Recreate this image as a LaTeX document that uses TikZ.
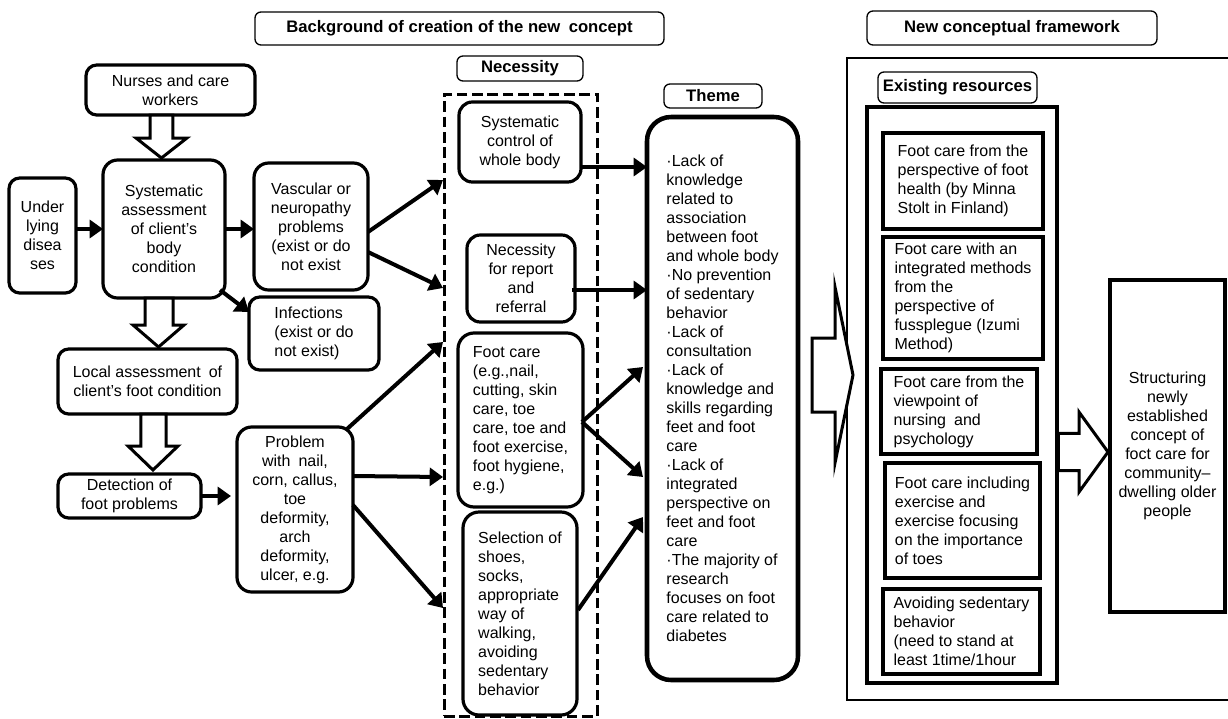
\documentclass[tikz,border=0pt]{standalone}
\usepackage{fontspec}
\setmainfont{Liberation Sans}
\usetikzlibrary{arrows.meta,calc}
\newcommand\txt{\fontsize{12}{14.25}\selectfont}
\newcommand\ttl{\fontsize{12.5}{14}\selectfont\bfseries}
\newcommand\bx[7]{\node[#6,minimum width={(#4-#2)*0.75pt},minimum height={(#5-#3)*0.75pt}] (#1) at ({(#2+#4)/2},{(#3+#5)/2}) {#7};}
\begin{document}
\begin{tikzpicture}[x=0.75pt,y=-0.75pt,
 rb/.style={draw,line width=2.4pt,rounded corners=8pt,inner sep=2pt,outer sep=0pt,font=\txt,align=center},
 rbl/.style={rb,align=left},
 tb/.style={draw,line width=1pt,rounded corners=4.5pt,inner sep=1pt,outer sep=0pt,font=\ttl},
 sb/.style={draw,line width=2.6pt,inner sep=2pt,outer sep=0pt,font=\txt,align=left},
 arr/.style={line width=3pt,-{Triangle[length=10pt,width=13.5pt]}},
 fat/.style={draw,fill=white,line width=2.25pt,line join=miter},
]
\useasboundingbox (0,0) rectangle (1228,718);

% titles
\bx{bg}{255}{12}{664}{45}{tb}{Background of creation of the new\enspace concept}
\bx{ncf}{867}{11}{1157}{45}{tb}{New conceptual framework}
\bx{nec}{457}{56}{583}{81}{tb}{Necessity}
\bx{thm}{664}{84}{762}{108}{tb}{Theme}

% right frame (its right side lies beyond the picture)
\bx{frame}{847}{58}{1240}{700}{outer sep=0pt}{}
\draw[line width=1pt] (frame.north east) -- (frame.north west) -- (frame.south west) -- (frame.south east);
\bx{exres}{878}{72}{1037}{103}{tb}{Existing resources}
\bx{thick}{867}{107}{1057}{683}{draw,line width=2.6pt,outer sep=0pt}{}
\bx{r1}{883}{133}{1043}{229}{sb}{Foot care from the\\perspective of foot\\health (by Minna\\Stolt in Finland)}
\bx{r2}{883}{237}{1043}{359}{sb}{Foot care with an\\integrated methods\\from the\\perspective of\\fussplegue (Izumi\\Method)}
\bx{r3}{881}{369}{1037}{454}{sb}{Foot care from the\\viewpoint of\\nursing\enspace and\\psychology}
\bx{r4}{885}{463}{1040}{578}{sb}{Foot care including\\exercise and\\exercise focusing\\on the importance\\of toes}
\bx{r5}{883}{589}{1040}{674}{sb}{Avoiding sedentary\\behavior\\(need to stand at\\least 1time/1hour}
\bx{struct}{1110}{280}{1225}{612}{sb,align=center}{Structuring\\newly\\established\\concept of\\foct care for\\community–\\dwelling older\\people}

% left column
\bx{nurses}{86}{65}{255}{115}{rb}{Nurses and care\\workers}
\bx{under}{9}{178}{76}{293}{rb}{Under\\lying\\disea\\ses}
\bx{sysA}{103}{160}{225}{298}{rb,rounded corners=11pt}{Systematic\\assessment\\of client’s\\body\\condition}
\bx{vasc}{254}{163}{368}{290}{rb,rounded corners=11pt}{Vascular or\\neuropathy\\problems\\(exist or do\\not exist}
\bx{inf}{249}{297}{379}{370}{rbl}{Infections\\(exist or do\\not exist)}
\bx{local}{58}{349}{237}{414}{rb}{Local assessment\enspace of\\client’s foot condition}
\bx{detect}{58}{474}{201}{518}{rb}{Detection of\\foot problems}
\bx{prob}{237}{427}{353}{592}{rb,rounded corners=11pt}{Problem\\with\enspace nail,\\corn, callus,\\toe\\deformity,\\arch\\deformity,\\ulcer, e.g.}

% necessity
\bx{nbox}{444}{94}{597}{716}{draw,line width=2.25pt,dash pattern=on 8pt off 3.5pt,outer sep=0pt}{}
\bx{sc}{459}{102}{581}{182}{rb,rounded corners=10pt}{Systematic\\control of\\whole body}
\bx{nr}{467}{235}{575}{322}{rb,rounded corners=10pt}{Necessity\\for report\\and\\referral}
\bx{fc}{458}{333}{583}{507}{rbl,rounded corners=12pt}{Foot care\\(e.g.,nail,\\cutting, skin\\care, toe\\care, toe and\\foot exercise,\\foot hygiene,\\e.g.)}
\bx{sel}{463}{512}{577}{715}{rbl,rounded corners=12pt}{Selection of\\shoes,\\socks,\\appropriate\\way of\\walking,\\avoiding\\sedentary\\behavior}

% theme
\bx{theme}{647}{117}{798}{680}{rbl,line width=3.4pt,rounded corners=18pt}{·Lack of\\knowledge\\related to\\association\\between foot\\and whole body\\·No prevention\\of sedentary\\behavior\\·Lack of\\consultation\\·Lack of\\knowledge and\\skills regarding\\feet and foot\\care\\·Lack of\\integrated\\perspective on\\feet and foot\\care\\·The majority of\\research\\focuses on foot\\care related to\\diabetes}

% arrow tips on the dashed frame
\coordinate (t1) at (443,180);
\coordinate (t2) at (443,288);
\coordinate (t3) at (443,342);
\coordinate (t4) at (443,477);
\coordinate (t5) at (443,608);

% fat arrows
\draw[fat] let \p1=(sysA.north), \p2=(nurses.south) in
 ({\x1-10.5pt},{\y2}) -- ({\x1-10.5pt},{\y1+16.5pt}) -- ({\x1-21pt},{\y1+16.5pt}) -- ({\x1-1.9pt},{\y1+1.5pt})
 -- ({\x1+17.2pt},{\y1+16.5pt}) -- ({\x1+6.7pt},{\y1+16.5pt}) -- ({\x1+6.7pt},{\y2}) -- cycle;
\draw[fat] let \p1=(sysA.south), \p2=(local.north) in
 ({\x1-14.25pt},{\y1}) -- ({\x1-14.25pt},{\y2+18pt}) -- ({\x1-23.25pt},{\y2+18pt}) -- ({\x1-4.1pt},{\y2+1.5pt})
 -- ({\x1+15pt},{\y2+18pt}) -- ({\x1+6.75pt},{\y2+18pt}) -- ({\x1+6.75pt},{\y1}) -- cycle;
\draw[fat] let \p1=(local.south), \p2=(detect.north) in
 ({\x1-4.9pt},{\y1}) -- ({\x1-4.9pt},{\y2+21pt}) -- ({\x1-14.6pt},{\y2+21pt}) -- ({\x1+4.1pt},{\y2+3pt})
 -- ({\x1+22.9pt},{\y2+21pt}) -- ({\x1+13.9pt},{\y2+21pt}) -- ({\x1+13.9pt},{\y1}) -- cycle;
\draw[fat] let \p1=(theme.east), \p2=(frame.west) in
 ({\x1+10.5pt},{\y2+30.75pt}) -- ({\x2-9pt},{\y2+30.75pt}) -- ({\x2-9pt},{\y2+69pt}) -- ({\x2+4.5pt},{\y2+3pt})
 -- ({\x2-9pt},{\y2-63pt}) -- ({\x2-9pt},{\y2-24.75pt}) -- ({\x1+10.5pt},{\y2-24.75pt}) -- cycle;
\draw[fat] let \p1=(thick.east), \p2=(struct.west) in
 ({\x1+1pt},{\y2+9.4pt}) -- ({\x2-23.25pt},{\y2+9.4pt}) -- ({\x2-23.25pt},{\y2+25.5pt}) -- ({\x2-1.5pt},{\y2-4.5pt})
 -- ({\x2-23.25pt},{\y2-34.5pt}) -- ({\x2-23.25pt},{\y2-18.4pt}) -- ({\x1+1pt},{\y2-18.4pt}) -- cycle;

% plain arrows
\draw[arr] (under.east |- sysA.west) -- (sysA.west);
\draw[arr] (sysA.east) -- (sysA.east -| vasc.west);
\draw[arr] ($(sysA.south east)+(-5,-8)$) -- ($(inf.north west)+(0,15)$);
\draw[arr] (detect.east) -- ($(detect.east -| prob.west)+(-6,0)$);
\draw[arr] ($(vasc.east)+(0,5.5)$) -- (t1);
\draw[arr] ($(vasc.east)+(0,25.5)$) -- (t2);
\draw[arr] ($(prob.north east)+(-6,2)$) -- (t3);
\draw[arr] ($(prob.east)+(0,-33.5)$) -- (t4);
\draw[arr] ($(prob.east)+(0,-4.5)$) -- (t5);
\draw[arr] ($(sc.east)+(0,25)$) -- ($(sc.east -| theme.west)+(0,25)$);
\draw[arr] ($(nr.east)+(-3,11.5)$) -- ($(nr.east -| theme.west)+(0,11.5)$);
\draw[arr] ($(fc.east)+(-1,2)$) -- ($(theme.west)+(-4,-31.5)$);
\draw[arr] ($(fc.east)+(-1,2)$) -- ($(theme.west)+(-4,78.5)$);
\draw[arr] ($(sel.east)+(1,-3.5)$) -- ($(theme.west)+(-4,118.5)$);
\end{tikzpicture}
\end{document}
